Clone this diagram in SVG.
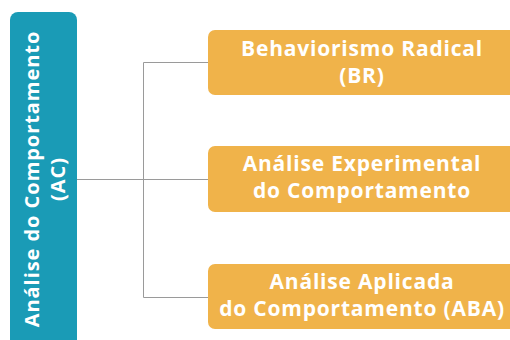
<svg xmlns="http://www.w3.org/2000/svg" width="510" height="340" viewBox="0 0 510 340">
<style>
.conn{stroke:#9a9a9a;stroke-width:1;fill:none}
.orange{fill:#f0b34a}
.blue{fill:#1a9bb6}
.t{font-family:"Open Sans","Liberation Sans",sans-serif;font-weight:700;fill:#ffffff;text-anchor:middle}
.r{font-size:21px;letter-spacing:0.8px}
.l{font-size:20px;letter-spacing:0.95px}
</style>
<rect width="510" height="340" fill="#ffffff"/>
<g id="connectors">
<path class="conn" d="M77 179.5H143.5M143.5 62.5V297.5M143.5 62.5H208M143.5 179.5H208M143.5 297.5H208"/>
</g>
<g id="node-ac">
<rect class="blue" x="10" y="12" width="67" height="345" rx="8"/>
<text class="t l" transform="translate(32,179) rotate(-90)" y="7">Análise do Comportamento</text>
<text class="t l" transform="translate(58,179) rotate(-90)" y="7">(AC)</text>
</g>
<g id="node-br">
<rect class="orange" x="208" y="30" width="310" height="65" rx="7"/>
<text class="t r" x="362" y="56">Behaviorismo Radical</text>
<text class="t r" x="362" y="83">(BR)</text>
</g>
<g id="node-aec">
<rect class="orange" x="208" y="146" width="310" height="66" rx="7"/>
<text class="t r" x="362" y="171">Análise Experimental</text>
<text class="t r" x="362" y="198">do Comportamento</text>
</g>
<g id="node-aba">
<rect class="orange" x="208" y="264" width="310" height="65" rx="7"/>
<text class="t r" x="362" y="289">Análise Aplicada</text>
<text class="t r" x="362" y="316">do Comportamento (ABA)</text>
</g>
</svg>
